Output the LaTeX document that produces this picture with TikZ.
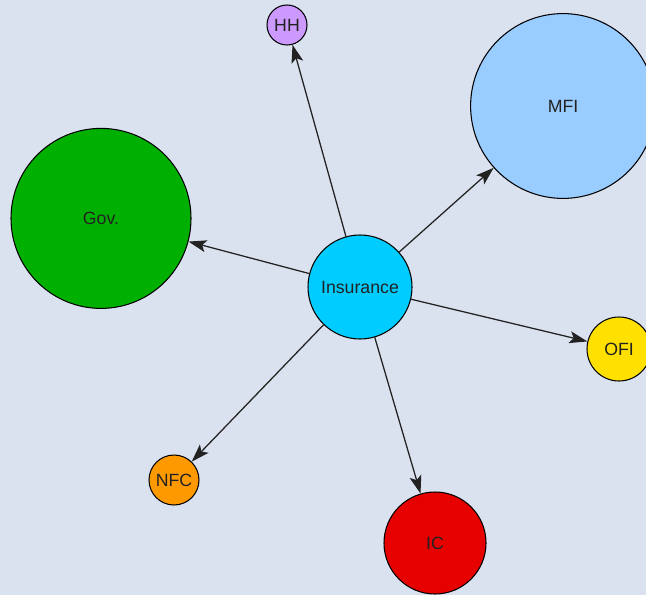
\documentclass[tikz,border=0pt]{standalone}
\usepackage{fontspec}
\setmainfont{Liberation Sans}
\usepackage{xcolor}
\usepackage{tikz}
\usetikzlibrary{arrows.meta}
\definecolor{CanvasBg}{HTML}{DBE2EF}
\definecolor{InkDark}{HTML}{222222}
\definecolor{InsCyan}{HTML}{00CCFF}
\definecolor{HHLilac}{HTML}{CC99FF}
\definecolor{MFIBlue}{HTML}{99CCFF}
\definecolor{GovGreen}{HTML}{00B000}
\definecolor{OFIYellow}{HTML}{FFE000}
\definecolor{NFCOrange}{HTML}{FF9900}
\definecolor{ICRed}{HTML}{E60000}
\tikzset{
  sector/.style={circle,draw=black,line width=0.75pt,inner sep=0pt,
    font=\fontsize{12.6}{14}\selectfont\color{InkDark},align=center},
  flow/.style={line width=0.9pt,draw=InkDark,
    -{Stealth[length=0.45cm,width=0.3cm,inset=0.1cm]}},
}

\begin{document}
\begin{tikzpicture}
  \useasboundingbox (0,0) rectangle (16.15,-14.875);
  \clip (0,0) rectangle (16.15,-14.875);
  \fill[CanvasBg] (0,0) rectangle (16.15,-14.875);
  % Sector nodes
  \node[sector,fill=InsCyan,minimum size=2.6cm] (ins) at (9.0,-7.175) {Insurance};
  \node[sector,fill=HHLilac,minimum size=1.0cm] (hh) at (7.175,-0.625) {HH};
  \node[sector,fill=MFIBlue,minimum size=4.62cm] (mfi) at (14.075,-2.65) {MFI};
  \node[sector,fill=GovGreen,minimum size=4.5cm] (gov) at (2.525,-5.46) {Gov.};
  \node[sector,fill=OFIYellow,minimum size=1.6cm] (ofi) at (15.475,-8.725) {OFI};
  \node[sector,fill=NFCOrange,minimum size=1.25cm] (nfc) at (4.35,-12.0) {NFC};
  \node[sector,fill=ICRed,minimum size=2.55cm] (ic) at (10.875,-13.575) {IC};
  % Edges
  \draw[flow] (ins) -- (hh);
  \draw[flow] (ins) -- (mfi);
  \draw[flow] (ins) -- (gov);
  \draw[flow] (ins) -- (ofi);
  \draw[flow] (ins) -- (nfc);
  \draw[flow] (ins) -- (ic);
\end{tikzpicture}
\end{document}
